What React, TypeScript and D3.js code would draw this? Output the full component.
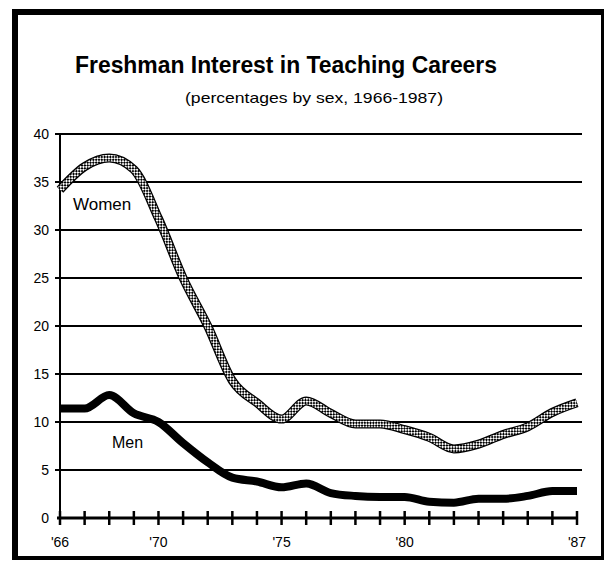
import React from 'react'
import * as d3 from 'd3'

const YEARS = [1966, 1967, 1968, 1969, 1970, 1971, 1972, 1973, 1974, 1975, 1976,
  1977, 1978, 1979, 1980, 1981, 1982, 1983, 1984, 1985, 1986, 1987]
const WOMEN = [34.2, 36.6, 37.5, 36.3, 31.2, 25.0, 20.0, 14.3, 12.0, 10.3, 12.2,
  10.9, 9.8, 9.8, 9.2, 8.4, 7.2, 7.7, 8.7, 9.5, 11.0, 12.0]
const MEN = [11.4, 11.4, 12.8, 10.9, 10.0, 7.8, 5.8, 4.2, 3.8, 3.2, 3.6,
  2.6, 2.3, 2.2, 2.2, 1.7, 1.6, 2.0, 2.0, 2.3, 2.8, 2.8]
const Y_TICKS = [0, 5, 10, 15, 20, 25, 30, 35, 40]
const X_LABELS: [number, string][] = [[1966, "'66"], [1970, "'70"], [1975, "'75"], [1980, "'80"], [1987, "'87"]]

const FONT = '"Liberation Sans", Arial, Helvetica, sans-serif'

export default function App() {
  const W = 606, H = 565
  const x = d3.scaleLinear().domain([1966, 1987]).range([60, 577])
  const y = d3.scaleLinear().domain([0, 40]).range([518, 134])

  const line = d3.line<number>()
    .x((d, i) => x(YEARS[i]))
    .y(d => y(d))
    .curve(d3.curveMonotoneX)

  return (
    <svg width={W} height={H} style={{ position: 'absolute', left: 0, top: 0, background: '#fff' }}
      fontFamily={FONT}>
      <defs>
        <pattern id="checker" patternUnits="userSpaceOnUse" width={4} height={4}
          patternTransform="rotate(45)">
          <rect width={4} height={4} fill="#fff" />
          <rect width={2} height={2} fill="#000" />
          <rect x={2} y={2} width={2} height={2} fill="#000" />
        </pattern>
      </defs>

      {/* moldura */}
      <rect x={12} y={9} width={6} height={551} fill="#000" />
      <rect x={12} y={9} width={592} height={6} fill="#000" />
      <rect x={601} y={9} width={3} height={551} fill="#000" />
      <rect x={12} y={556} width={592} height={4} fill="#000" />

      {/* título */}
      <text x={75} y={73} fontSize={23} fontWeight="bold" textLength={422}
        lengthAdjust="spacingAndGlyphs">Freshman Interest in Teaching Careers</text>
      <text x={185} y={103} fontSize={15} textLength={258}
        lengthAdjust="spacingAndGlyphs">(percentages by sex, 1966-1987)</text>

      {/* grade */}
      {Y_TICKS.filter(t => t > 0).map(t => (
        <g key={t}>
          <line x1={55} x2={582} y1={y(t)} y2={y(t)} stroke="#000" strokeWidth={2} />
        </g>
      ))}
      {Y_TICKS.map(t => (
        <text key={t} x={49} y={y(t)} dy="0.35em" fontSize={14} textAnchor="end">{t}</text>
      ))}
      <line x1={60} x2={60} y1={y(40)} y2={y(0) + 6} stroke="#000" strokeWidth={2} />

      {/* eixo x */}
      <line x1={57} x2={578} y1={y(0)} y2={y(0)} stroke="#000" strokeWidth={3} />
      {YEARS.map(yr => (
        <line key={yr} x1={x(yr)} x2={x(yr)} y1={y(0) - 7} y2={y(0) + 7} stroke="#000" strokeWidth={2.5} />
      ))}
      {X_LABELS.map(([yr, lab]) => (
        <text key={yr} x={x(yr)} y={547} fontSize={14} textAnchor="middle">{lab}</text>
      ))}

      {/* séries */}
      <path d={line(WOMEN) ?? ''} fill="none" stroke="#000" strokeWidth={9} strokeLinejoin="round" />
      <path d={line(WOMEN) ?? ''} fill="none" stroke="url(#checker)" strokeWidth={6.5} strokeLinejoin="round" />
      <path d={line(MEN) ?? ''} fill="none" stroke="#000" strokeWidth={8} strokeLinejoin="round" />

      <text x={73} y={210} fontSize={17}>Women</text>
      <text x={112} y={448} fontSize={16}>Men</text>
    </svg>
  )
}
